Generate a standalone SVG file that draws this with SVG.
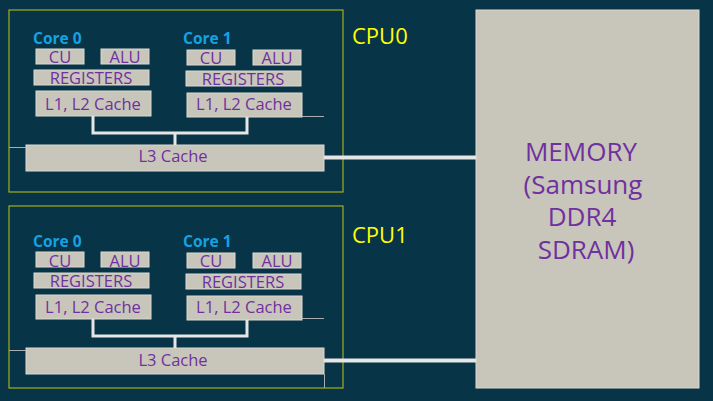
<svg xmlns="http://www.w3.org/2000/svg" width="713" height="401" viewBox="0 0 713 401">
<style>
.bg{fill:#083447}
.cpu{fill:none;stroke:#a4ac1e;stroke-width:1.2}
.box{fill:#c8c6ba;stroke:#dcdad2;stroke-width:1}
.t{font-family:"Open Sans","Noto Sans",sans-serif;fill:#7030a0;text-anchor:middle;font-size:16.5px}
.core{font-family:"Open Sans","Noto Sans",sans-serif;font-weight:bold;font-size:15.5px;fill:#15a2e2}
.cpul{font-family:"Open Sans","Noto Sans",sans-serif;font-size:22px;fill:#ffff00}
.mem{font-family:"Open Sans","Noto Sans",sans-serif;fill:#7030a0;text-anchor:middle;font-size:26px}
.wire{fill:none;stroke:#e6e6e6;stroke-width:3}
.bus{fill:none;stroke:#e6e6e6;stroke-width:4}
.thin{fill:none;stroke:#a9adb0;stroke-width:1}
</style>
<rect class="bg" x="0" y="0" width="713" height="401"/>

<g id="cpu0">
<rect class="cpu" x="9" y="10" width="334" height="182"/>
<text class="cpul" x="352" y="44">CPU0</text>
<g id="cpu0-core0">
<text class="core" x="33" y="44">Core 0</text>
<rect class="box" x="36" y="49" width="48" height="15"/><text class="t" x="60" y="63">CU</text>
<rect class="box" x="101" y="49" width="48" height="15"/><text class="t" x="125" y="63">ALU</text>
<rect class="box" x="34" y="70" width="115" height="15"/><text class="t" x="91" y="84">REGISTERS</text>
<rect class="box" x="36" y="91" width="115" height="25"/><text class="t" x="93" y="110">L1, L2 Cache</text>
</g>
<g id="cpu0-core1">
<text class="core" x="183" y="44">Core 1</text>
<rect class="box" x="187" y="50" width="48" height="15"/><text class="t" x="211" y="64">CU</text>
<rect class="box" x="253" y="50" width="48" height="15"/><text class="t" x="277" y="64">ALU</text>
<rect class="box" x="186" y="71" width="115" height="15"/><text class="t" x="243" y="85">REGISTERS</text>
<rect class="box" x="187" y="93" width="115" height="24"/><text class="t" x="244" y="110">L1, L2 Cache</text>
</g>
<g id="cpu0-l3">
<rect class="box" x="26" y="145" width="298" height="26"/><text class="t" x="173" y="162">L3 Cache</text>
</g>
</g>

<g id="cpu1">
<rect class="cpu" x="9" y="206" width="334" height="182"/>
<text class="cpul" x="352" y="243">CPU1</text>
<g id="cpu1-core0">
<text class="core" x="33" y="247">Core 0</text>
<rect class="box" x="36" y="252" width="48" height="15"/><text class="t" x="60" y="266.5">CU</text>
<rect class="box" x="101" y="252" width="48" height="15"/><text class="t" x="125" y="266.5">ALU</text>
<rect class="box" x="34" y="273" width="115" height="15"/><text class="t" x="91" y="287">REGISTERS</text>
<rect class="box" x="36" y="295" width="115" height="24"/><text class="t" x="93" y="313">L1, L2 Cache</text>
</g>
<g id="cpu1-core1">
<text class="core" x="183" y="247">Core 1</text>
<rect class="box" x="187" y="253" width="48" height="15"/><text class="t" x="211" y="267">CU</text>
<rect class="box" x="253" y="253" width="48" height="15"/><text class="t" x="277" y="267">ALU</text>
<rect class="box" x="186" y="274" width="115" height="15"/><text class="t" x="243" y="288">REGISTERS</text>
<rect class="box" x="187" y="296" width="115" height="24"/><text class="t" x="244" y="313">L1, L2 Cache</text>
</g>
<g id="cpu1-l3">
<rect class="box" x="26" y="348" width="298" height="26"/><text class="t" x="173" y="365.5">L3 Cache</text>
</g>
</g>

<g id="memory">
<rect class="box" x="476" y="10" width="223" height="378"/>
<text class="mem" x="581" y="161">MEMORY</text>
<text class="mem" x="583" y="194">(Samsung</text>
<text class="mem" x="582" y="226">DDR4</text>
<text class="mem" x="586" y="259">SDRAM)</text>
</g>

<g id="connectors">
<path class="thin" d="M302 116.5H324 M9 147.5H26"/>
<path class="thin" d="M302 318.5H324 M9 350.5H26 M324.5 374V388"/>
<path class="wire" d="M93 116V133H247V117 M175 133V145"/>
<path class="wire" d="M93 319V336H247V320 M175 336V348"/>
<path class="bus" d="M324 157.5H476"/>
<path class="bus" d="M324 360.5H476"/>
</g>
</svg>
